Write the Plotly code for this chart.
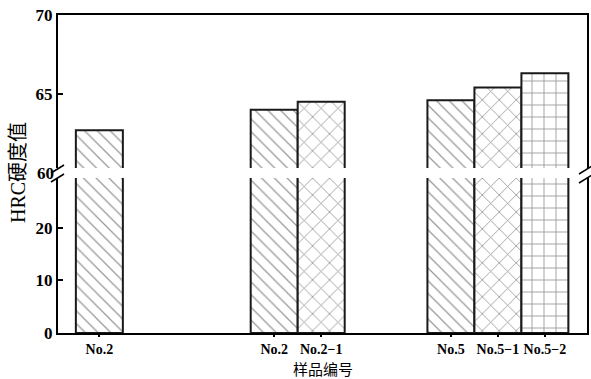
import plotly.graph_objects as go

# ---- data ----
sample_labels = ["No.2", "No.2", "No.2−1", "No.5", "No.5−1", "No.5−2"]
hrc_values = [62.7, 64.0, 64.5, 64.6, 65.4, 66.3]
x_positions = [0.88, 4.6, 5.6, 8.36, 9.36, 10.36]
patterns = ["\\", "\\", "x", "\\", "x", "+"]
pattern_sizes = [9, 9, 12, 9, 12, 12]
upper_ticks = [65, 70]
lower_ticks = [0, 10, 20]

W, H = 591, 379
L, R, T, B = 58, 4, 15, 46
plot_w = W - L - R
plot_h = H - T - B
gap_top_px, gap_bot_px = 168, 178   # page y of gap edges
upper_dom = [(H - B - gap_top_px) / plot_h, 1.0]
lower_dom = [0.0, (H - B - gap_bot_px) / plot_h]

fig = go.Figure()
for sub, (xa, ya) in enumerate([("x", "y"), ("x2", "y2")]):
    for i in range(len(hrc_values)):
        fig.add_trace(go.Bar(
            x=[x_positions[i]], y=[hrc_values[i]], width=1.0,
            xaxis=xa, yaxis=ya, showlegend=False,
            marker=dict(color="white",
                        line=dict(color="#1a1a1a", width=2),
                        pattern=dict(shape=patterns[i], size=pattern_sizes[i],
                                     solidity=0.14, fgcolor="#333333",
                                     bgcolor="white", fillmode="overlay")),
        ))

tickfont = dict(family="Liberation Serif", size=17, color="black",
                weight="bold")
xr = [0, plot_w / 47.0]
fig.update_layout(
    width=W, height=H, margin=dict(l=L, r=R, t=T, b=B),
    plot_bgcolor="white", paper_bgcolor="white", barmode="overlay",
    xaxis=dict(domain=[0, 1], range=xr, anchor="y", tickmode="array",
               tickvals=x_positions, ticktext=sample_labels, tickangle=0,
               automargin=False,
               ticks="outside", ticklen=2, tickwidth=1.5, tickcolor="black",
               showline=True, linecolor="black", linewidth=2, mirror=False,
               showgrid=False, zeroline=False,
               tickfont=dict(family="Liberation Serif", size=14, color="black",
                             weight="bold")),
    yaxis=dict(domain=lower_dom, range=[0, 29.5], anchor="x", automargin=False,
               tickvals=lower_ticks, ticks="inside", ticklen=5, tickwidth=1.5,
               tickcolor="black", showline=True, linecolor="black",
               linewidth=2, mirror=True, showgrid=False, zeroline=False,
               tickfont=tickfont),
    xaxis2=dict(domain=[0, 1], range=xr, anchor="y2", side="top",
                showticklabels=False, ticks="", showline=True, automargin=False,
                linecolor="black", linewidth=2, mirror=False,
                showgrid=False, zeroline=False),
    yaxis2=dict(domain=upper_dom, range=[60.3, 70], anchor="x2", automargin=False,
                tickvals=upper_ticks, ticks="inside", ticklen=5, tickwidth=1.5,
                tickcolor="black", showline=True, linecolor="black",
                linewidth=2, mirror=True, showgrid=False, zeroline=False,
                tickfont=tickfont),
)

def px2paper(px, py):
    return (px - L) / plot_w, (H - B - py) / plot_h

# "60" label at the break
_, y60 = px2paper(0, 173)
fig.add_annotation(text="60", xref="paper", yref="paper", x=-0.004, y=y60,
                   xanchor="right", yanchor="middle", showarrow=False,
                   font=tickfont)

# break marks
for (x0, y0, x1, y1) in [(51, 173, 64, 165), (51, 182, 64, 174),
                         (579, 174, 592, 166), (579, 183, 592, 175)]:
    a0, b0 = px2paper(x0, y0)
    a1, b1 = px2paper(x1, y1)
    fig.add_shape(type="line", xref="paper", yref="paper",
                  x0=a0, y0=b0, x1=a1, y1=b1,
                  line=dict(color="black", width=1.5))

# axis titles
fig.add_annotation(text="样品编号", xref="paper", yref="paper", x=0.5,
                   y=px2paper(0, 368)[1], xanchor="center", yanchor="middle",
                   showarrow=False, borderpad=0,
                   font=dict(family="Noto Sans CJK SC", size=15, color="black"))
fig.add_annotation(text="HRC硬度值", xref="paper", yref="paper",
                   x=px2paper(18, 0)[0], y=px2paper(0, 173)[1],
                   xanchor="center", yanchor="middle", textangle=-90,
                   showarrow=False,
                   font=dict(family="Liberation Serif, Noto Sans CJK SC",
                             size=20, color="black"))

fig.write_html("out.html")
